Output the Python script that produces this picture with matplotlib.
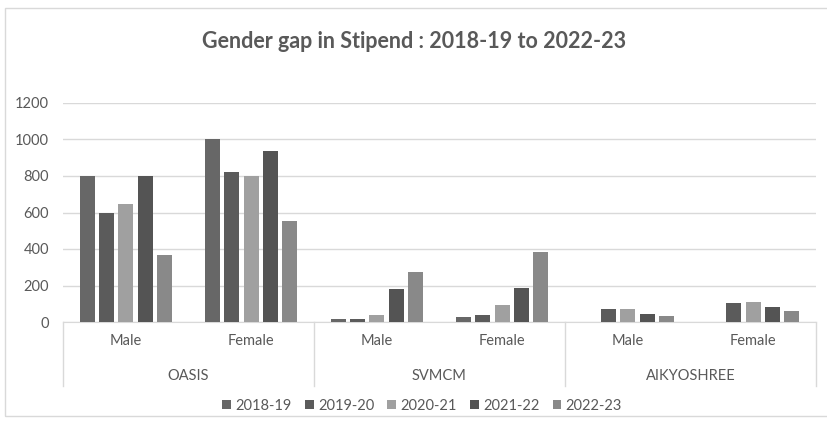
import matplotlib.pyplot as plt
from matplotlib.patches import Rectangle
from matplotlib.lines import Line2D

plt.rcParams['font.family'] = ['Lato', 'DejaVu Sans']

schemes = ["OASIS", "SVMCM", "AIKYOSHREE"]
genders = ["Male", "Female"]
years = ["2018-19", "2019-20", "2020-21", "2021-22", "2022-23"]

# valores por ano: OASIS M/F, SVMCM M/F, AIKYOSHREE M/F
v2018 = [800, 1000, 14, 27, 0, 0]
v2019 = [600, 820, 19, 41, 73, 104]
v2020 = [648, 798, 41, 92, 73, 111]
v2021 = [800, 938, 183, 189, 44, 80]
v2022 = [368, 553, 272, 384, 33, 60]
series = [v2018, v2019, v2020, v2021, v2022]

colors = ["#676767", "#5b5b5b", "#a0a0a0", "#545454", "#898989"]
txt = "#595959"
grid = "#d9d9d9"

fig = plt.figure(figsize=(8.28, 4.24), dpi=100)
ax = fig.add_axes([63 / 828, 102 / 424, 753 / 828, 219 / 424])

# moldura do grafico
fig.add_artist(Rectangle((5 / 828, 8 / 424), 830 / 828, 408 / 424,
                         transform=fig.transFigure, fill=False,
                         edgecolor="#d9d9d9", linewidth=1))

n_cat = len(schemes) * len(genders)
pitch = 0.154
width = 0.12
for j, (vals, col) in enumerate(zip(series, colors)):
    xs = [i + (j - 2) * pitch for i in range(n_cat)]
    ax.bar(xs, vals, width=width, color=col, label=years[j], zorder=3)

ax.set_xlim(-0.5, n_cat - 0.5)
ax.set_ylim(0, 1200)
ax.set_yticks(range(0, 1201, 200))
ax.yaxis.grid(True, color=grid, linewidth=1)
ax.set_axisbelow(True)
ax.tick_params(axis='y', length=0, labelsize=10.5, labelcolor=txt, pad=10)
ax.set_xticks([])
for s in ["top", "right", "left"]:
    ax.spines[s].set_visible(False)
ax.spines["bottom"].set_color(grid)

# eixo x em dois niveis
for i in range(n_cat):
    ax.text(i, -0.087, genders[i % 2], transform=ax.get_xaxis_transform(),
            ha="center", va="center", fontsize=10.5, color=txt)
for k, name in enumerate(schemes):
    ax.text(2 * k + 0.5, -0.245, name, transform=ax.get_xaxis_transform(),
            ha="center", va="center", fontsize=10.5, color=txt)
for k in range(len(schemes) + 1):
    ax.add_line(Line2D([2 * k - 0.5, 2 * k - 0.5], [0, -0.29],
                       transform=ax.get_xaxis_transform(), color=grid,
                       linewidth=1, clip_on=False))

fig.text(0.5, 1 - 42 / 424, "Gender gap in Stipend : 2018-19 to 2022-23",
         ha="center", va="center", fontsize=15.5, fontweight="bold", color=txt)

fig.legend(loc="center", bbox_to_anchor=(0.51, 1 - 406 / 424), ncol=5,
           frameon=False, fontsize=10.5, labelcolor=txt, handlelength=0.6,
           handleheight=0.6, handletextpad=0.3, columnspacing=0.9)

fig.savefig("out.png", dpi=100)
